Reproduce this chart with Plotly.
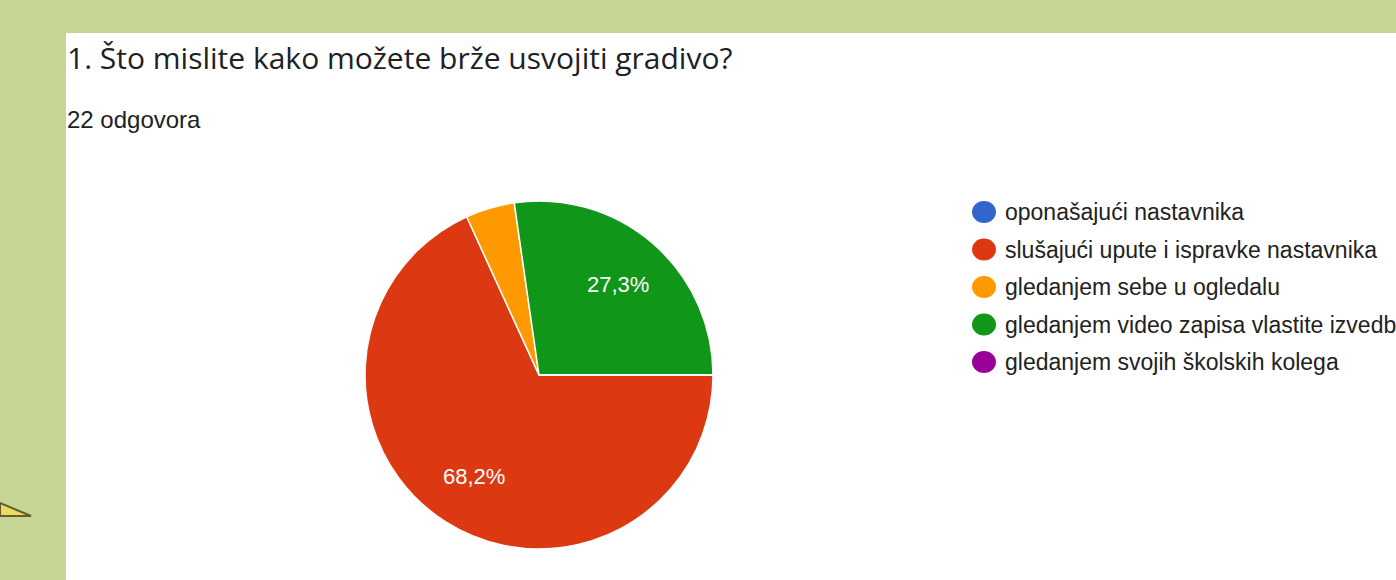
import math
import plotly.graph_objects as go

# ---- data ----
title_text = "1. Što mislite kako možete brže usvojiti gradivo?"
subtitle_text = "22 odgovora"
categories = [
    "oponašajući nastavnika",
    "slušajući upute i ispravke nastavnika",
    "gledanjem sebe u ogledalu",
    "gledanjem video zapisa vlastite izvedbe",
    "gledanjem svojih školskih kolega",
]
counts = [0, 15, 1, 6, 0]
colors = ["#3366cc", "#dc3912", "#ff9900", "#109618", "#990099"]

# ---- layout constants ----
W, H = 1396, 580
BAND = "#c6d595"
START_DEG = 90          # first slice starts at 3 o'clock, clockwise
LABEL_R = 0.69          # label radius as fraction of pie radius
total = sum(counts)

cx, cy, r = 539, 375, 174

fig = go.Figure(
    go.Pie(
        labels=categories,
        values=counts,
        marker=dict(colors=colors, line=dict(color="white", width=1.5)),
        sort=False,
        direction="clockwise",
        rotation=START_DEG,
        textinfo="none",
        showlegend=False,
        hoverinfo="skip",
        domain=dict(x=[(cx - r) / W, (cx + r) / W], y=[(H - cy - r) / H, (H - cy + r) / H]),
    )
)

shapes = [
    dict(type="rect", xref="paper", yref="paper", x0=0, x1=1, y0=1 - 33 / H, y1=1,
         fillcolor=BAND, line=dict(width=0), layer="below"),
    dict(type="rect", xref="paper", yref="paper", x0=0, x1=66 / W, y0=0, y1=1,
         fillcolor=BAND, line=dict(width=0), layer="below"),
    dict(type="path", xref="paper", yref="paper",
         path=f"M 0 {1 - 503 / H} L {31 / W} {1 - 516 / H} L 0 {1 - 516 / H} Z",
         fillcolor="#eedb5c", line=dict(color="#5e5e30", width=2)),
]

annotations = [
    dict(text=title_text, x=65 / W, y=1 - 58 / H, xref="paper", yref="paper",
         xanchor="left", yanchor="middle", showarrow=False,
         font=dict(family="Open Sans", size=30, color="#202124")),
    dict(text=subtitle_text, x=65 / W, y=1 - 120 / H, xref="paper", yref="paper",
         xanchor="left", yanchor="middle", showarrow=False,
         font=dict(family="Liberation Sans, Arial", size=24, color="#202124")),
]

# percentage labels on slices (derived from the counts)
acc = 0
for c in counts:
    frac = c / total
    if frac >= 0.05:
        mid = math.radians(START_DEG + (acc + c / 2) / total * 360)
        px = cx + LABEL_R * r * math.sin(mid)
        py = cy - LABEL_R * r * math.cos(mid)
        annotations.append(dict(
            text=f"{frac * 100:.1f}%".replace(".", ","),
            x=px / W, y=1 - py / H, xref="paper", yref="paper",
            xanchor="center", yanchor="middle", showarrow=False,
            font=dict(family="Liberation Sans, Arial", size=22, color="white")))
    acc += c

# legend
row_y0, row_step = 212, 37.5
for i, (lab, col) in enumerate(zip(categories, colors)):
    yc = row_y0 + i * row_step
    shapes.append(dict(type="circle", xref="paper", yref="paper",
                       x0=972 / W, x1=996 / W, y0=1 - (yc + 11) / H, y1=1 - (yc - 11) / H,
                       fillcolor=col, line=dict(width=0)))
    annotations.append(dict(text=lab, x=1003 / W, y=1 - yc / H, xref="paper", yref="paper",
                            xanchor="left", yanchor="middle", showarrow=False,
                            font=dict(family="Liberation Sans, Arial", size=23, color="#222222")))

fig.update_layout(
    width=W, height=H,
    margin=dict(l=0, r=0, t=0, b=0),
    paper_bgcolor="white",
    plot_bgcolor="white",
    shapes=shapes,
    annotations=annotations,
)

fig.write_html(
    "out.html",
    config={"displayModeBar": False},
    post_script="document.body.style.margin='0';document.body.style.overflow='hidden';",
)
